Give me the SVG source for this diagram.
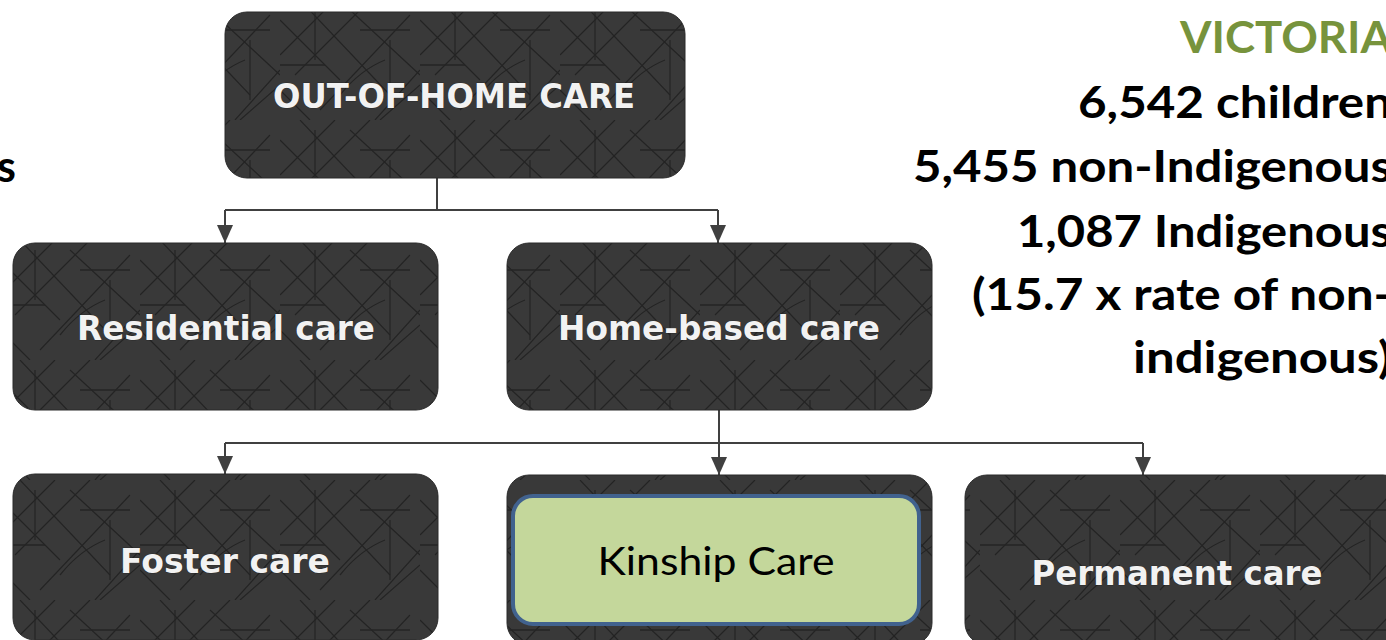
<svg xmlns="http://www.w3.org/2000/svg" width="1386" height="640" viewBox="0 0 1386 640">
<style>
.box{fill:url(#tex);stroke:#2a2a2a;stroke-width:1}
.lbl{font-family:"DejaVu Sans",Verdana,sans-serif;font-weight:bold;font-size:33px;fill:#f2f2f2;stroke:#1a1a1a;stroke-width:0.6;paint-order:stroke;text-anchor:middle}
.stat{font-family:Lato,"Open Sans",sans-serif;font-weight:bold;font-size:43px;fill:#000}
.conn{fill:none;stroke:#404040;stroke-width:2}
</style>
<defs>
<pattern id="tex" patternUnits="userSpaceOnUse" width="140" height="120">
<rect width="140" height="120" fill="#393939"/>
<g stroke="#1c1c1c" stroke-width="1.3" fill="none" opacity="0.75">
<path d="M0,20 L60,80 M20,0 L110,95 M70,10 L140,75 M0,90 L30,120 M90,0 L15,75 M130,15 L40,110 M140,70 L95,120 M55,0 L0,55 M100,120 L140,85"/>
<path d="M35,10 V60 M110,40 V100 M0,65 H45 M80,30 H130 M60,95 Q80,70 105,60"/>
</g>
</pattern>
<marker id="arr" markerUnits="userSpaceOnUse" viewBox="0 0 18 16" markerWidth="18" markerHeight="16" refX="18" refY="8" orient="auto">
<path d="M0,0 L18,8 L0,16 z" fill="#404040"/>
</marker>
</defs>
<rect width="1386" height="640" fill="#ffffff"/>

<g id="connectors">
<path class="conn" d="M437,178 V210 M225,210 H718"/>
<path class="conn" d="M225,210 V243" marker-end="url(#arr)"/>
<path class="conn" d="M718,210 V243" marker-end="url(#arr)"/>
<path class="conn" d="M719,410 V443 M225,443 H1143"/>
<path class="conn" d="M225,443 V474" marker-end="url(#arr)"/>
<path class="conn" d="M719,443 V475" marker-end="url(#arr)"/>
<path class="conn" d="M1143,443 V475" marker-end="url(#arr)"/>
</g>

<g id="out-of-home-care">
<rect class="box" x="225" y="12" width="460" height="166" rx="22"/>
<text class="lbl" x="454" y="108" textLength="362" lengthAdjust="spacingAndGlyphs">OUT-OF-HOME CARE</text>
</g>

<g id="residential-care">
<rect class="box" x="13" y="243" width="425" height="167" rx="22"/>
<text class="lbl" x="226" y="340" textLength="298" lengthAdjust="spacingAndGlyphs">Residential care</text>
</g>

<g id="home-based-care">
<rect class="box" x="507" y="243" width="425" height="167" rx="22"/>
<text class="lbl" x="719" y="340" textLength="322" lengthAdjust="spacingAndGlyphs">Home-based care</text>
</g>

<g id="foster-care">
<rect class="box" x="13" y="474" width="425" height="166" rx="22"/>
<text class="lbl" x="225" y="573" textLength="210" lengthAdjust="spacingAndGlyphs">Foster care</text>
</g>

<g id="kinship-care">
<rect class="box" x="507" y="475" width="425" height="170" rx="22"/>
<rect x="513" y="496" width="406" height="128" rx="20" fill="#c4d79b" stroke="#41628e" stroke-width="4"/>
<text x="716" y="575" font-family="Lato,'Open Sans',sans-serif" font-size="39" fill="#000" text-anchor="middle" textLength="237" lengthAdjust="spacingAndGlyphs">Kinship Care</text>
</g>

<g id="permanent-care">
<rect class="box" x="965" y="475" width="440" height="170" rx="22"/>
<text class="lbl" x="1177" y="585" textLength="291" lengthAdjust="spacingAndGlyphs">Permanent care</text>
</g>

<g id="stats">
<text class="stat" x="1180" y="53" fill="#77933c" style="fill:#77933c" textLength="212" lengthAdjust="spacingAndGlyphs">VICTORIA</text>
<text class="stat" x="1078" y="118" textLength="314" lengthAdjust="spacingAndGlyphs">6,542 children</text>
<text class="stat" x="913" y="182" textLength="479" lengthAdjust="spacingAndGlyphs">5,455 non-Indigenous</text>
<text class="stat" x="1017" y="247" textLength="375" lengthAdjust="spacingAndGlyphs">1,087 Indigenous</text>
<text class="stat" x="972" y="310" textLength="420" lengthAdjust="spacingAndGlyphs">(15.7 x rate of non-</text>
<text class="stat" x="1133" y="373" textLength="259" lengthAdjust="spacingAndGlyphs">indigenous)</text>
</g>

<g id="left-fragment">
<text class="stat" x="16" y="182" text-anchor="end">s</text>
</g>
</svg>
